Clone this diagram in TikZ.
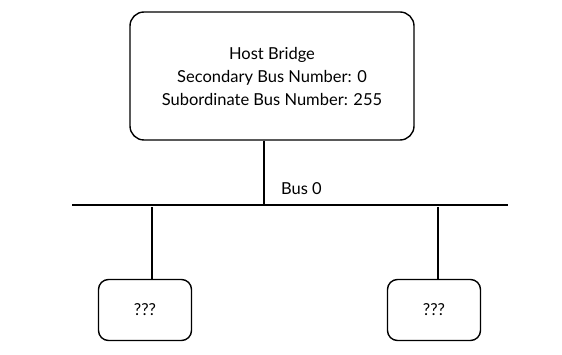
\documentclass[tikz,border=0pt]{standalone}
\usepackage{fontspec}
\setmainfont{Lato}
\begin{document}
\begin{tikzpicture}[x=1pt, y=-1pt, line width=1.4pt,
  box/.style={draw, rounded corners=14pt, align=center, inner sep=0pt},
  lbl/.style={font=\fontsize{16.5}{23}\selectfont}]
  \useasboundingbox (0,0) rectangle (562,355);
  % 호스트 브리지
  \node[box, lbl, minimum width=284pt, minimum height=128pt] (host) at (272,76)
    {Host Bridge\\Secondary Bus Number: 0\\Subordinate Bus Number: 255};
  % 버스 0
  \coordinate (busL) at (72,205);
  \coordinate (busR) at (508,205);
  \draw (busL) -- (busR);
  \coordinate (up) at (264,205);
  \draw (host.south -| up) -- (up);
  \node[lbl, anchor=south west] (bus) at (277,199) {Bus 0};
  % 장치
  \foreach \n/\a/\b in {devA/152/145, devB/438/434}{
    \node[box, lbl, rounded corners=10pt, minimum width=93pt, minimum height=61pt] (\n) at (\b,310) {???};
    \coordinate (\n top) at (\a,207);
    \draw (\n top) -- (\n.north -| \n top);
  }
\end{tikzpicture}
\end{document}
